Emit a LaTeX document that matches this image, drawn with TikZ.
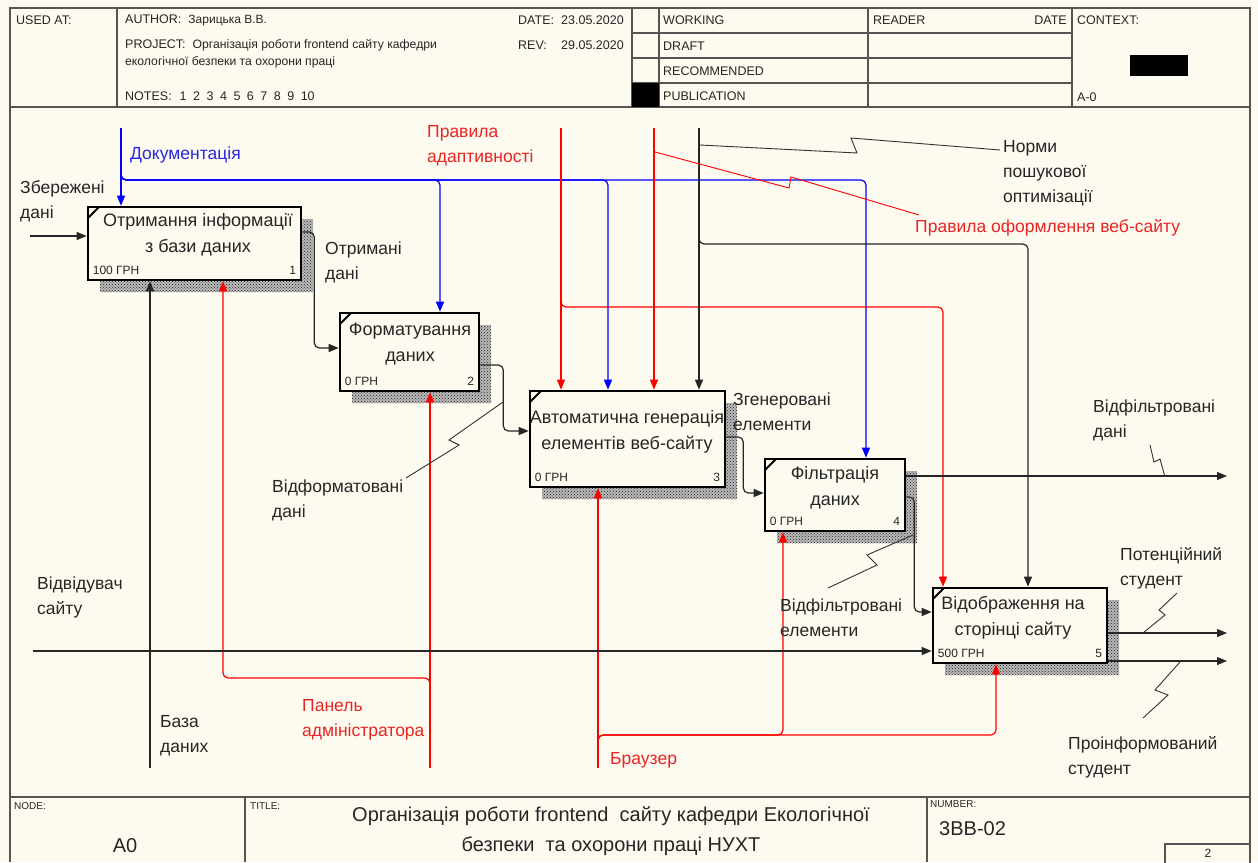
\documentclass[tikz,border=0pt]{standalone}
\usepackage{fontspec}
\setmainfont{Liberation Sans}
\usetikzlibrary{arrows.meta, positioning, patterns, calc}
\definecolor{paper}{RGB}{253,250,240}
\definecolor{idefred}{RGB}{255,0,0}
\definecolor{idefblue}{RGB}{0,0,255}
\definecolor{lblred}{RGB}{232,36,36}
\definecolor{lblblue}{RGB}{40,40,225}
\definecolor{rulegray}{RGB}{85,85,85}
\newcommand{\fs}[2]{\fontsize{#1}{#2}\selectfont}

\begin{document}
\begin{tikzpicture}[
  x=1pt, y=-1pt,
  every node/.style={inner sep=0pt, text=black!85},
  frame/.style={draw=rulegray, line width=1.4pt},
  hdr/.style={anchor=west, font=\fs{12.5}{15}},
  tiny/.style={anchor=west, font=\fs{10}{12}},
  actbox/.style={draw=black, line width=2.6pt, fill=paper,
    preaction={draw=none, fill=black!28,
               transform canvas={shift={(12pt,-12pt)}}},
    preaction={draw=none, pattern=crosshatch dots, pattern color=black!85,
               transform canvas={shift={(12pt,-12pt)}}},
    path picture={\draw[line width=2pt]
      ([yshift=-11pt]path picture bounding box.north west) --
      ([xshift=11pt]path picture bounding box.north west);}},
  boxtext/.style={align=center, font=\fs{18}{26}},
  cost/.style={font=\fs{12}{14}},
  lbl/.style={anchor=west, align=left, font=\fs{17.5}{25}},
  arr/.style={-{Triangle[length=10pt,width=8pt]}, line width=1.2pt, rounded corners=5pt},
  ctlblack/.style={arr, color=black!85},
  ctlred/.style={arr, color=idefred},
  ctlblue/.style={arr, color=idefblue},
  leader/.style={line width=0.9pt, draw=black!80}
]
  \useasboundingbox (0,0) rectangle (1258,862);
  \fill[paper] (0,0) rectangle (1258,862);

  %% Frame, header and footer
  \draw[frame] (10,862) -- (10,8) -- (1250,8) -- (1250,862);
  \draw[frame] (10,107) -- (1250,107);
  \draw[frame] (117,8) -- (117,107);
  \draw[frame] (632,8) -- (632,107);
  \draw[frame] (659,8) -- (659,107);
  \draw[frame] (868,8) -- (868,107);
  \draw[frame] (1072,8) -- (1072,107);
  \foreach \y in {33,58,83}
    \draw[frame] (632,\y) -- (1072,\y);
  \fill[black] (632,83) rectangle (659,107);
  \fill[black] (1130,55) rectangle (1188,76);
  \draw[frame] (10,797) -- (1250,797);
  \draw[frame] (245,797) -- (245,862);
  \draw[frame] (927,797) -- (927,862);
  \draw[frame] (1165,844) rectangle (1250,870);

  \node[hdr] (usedat)  at (16,20)  {USED AT:};
  \node[hdr] (author)  at (125,20) {AUTHOR:\hspace{7pt}{\fs{12}{14}Зарицька В.В.}};
  \node[hdr] (project) at (125,45) {PROJECT:\hspace{7pt}{\fs{12.2}{14}Організація роботи frontend сайту кафедри}};
  \node[anchor=west, font=\fs{12.2}{14}] (project2) at (125,62) {екологічної безпеки та охорони праці};
  \node[hdr] (notes)   at (125,96) {NOTES:\hspace{8pt}1\hspace{6.5pt}2\hspace{6.5pt}3\hspace{6.5pt}4\hspace{6.5pt}5\hspace{6.5pt}6\hspace{6.5pt}7\hspace{6.5pt}8\hspace{6.5pt}9\hspace{6.5pt}10};
  \node[hdr] (datehd)  at (518,20) {DATE:};
  \node[hdr] (dateval) at (561,20) {23.05.2020};
  \node[hdr] (revhd)   at (518,45) {REV:};
  \node[hdr] (revval)  at (561,45) {29.05.2020};
  \node[hdr] (working) at (663,20) {WORKING};
  \node[hdr] (draft)   at (663,46) {DRAFT};
  \node[hdr] (recomm)  at (663,71) {RECOMMENDED};
  \node[hdr] (public)  at (663,96) {PUBLICATION};
  \node[hdr] (reader)  at (873,20) {READER};
  \node[hdr, anchor=east] (rdate) at (1067,20) {DATE};
  \node[hdr] (context) at (1077,20) {CONTEXT:};
  \node[hdr] (ctxnode) at (1077,97) {A-0};

  \node[tiny] (nodehd)  at (14,806) {NODE:};
  \node[font=\fs{20}{24}] (nodeval) at (125,846) {A0};
  \node[tiny] (titlehd) at (250,806) {TITLE:};
  \node[align=center, font=\fs{20}{30}] (title) at (611,831)
    {Організація роботи frontend\ \ сайту кафедри Екологічної\\безпеки\ \ та охорони праці НУХТ};
  \node[tiny] (numhd)   at (930,804) {NUMBER:};
  \node[anchor=west, font=\fs{20}{24}] (numval) at (939,829) {3BB-02};
  \node[font=\fs{12}{14}] (sheet) at (1208,853) {2};

  %% Activity boxes
  \node[actbox, minimum width=213, minimum height=73] (getdata)  at (194.5,243.5) {};
  \node[actbox, minimum width=139, minimum height=78] (format)   at (409.5,352) {};
  \node[actbox, minimum width=195, minimum height=96] (generate) at (627.5,439) {};
  \node[actbox, minimum width=140, minimum height=72] (filter)   at (835,495) {};
  \node[actbox, minimum width=174, minimum height=75] (show)     at (1020,625.5) {};

  \node[boxtext] (t1) at (198,235)   {Отримання інформації\\з бази даних};
  \node[boxtext] (t2) at (410,344.5) {Форматування\\даних};
  \node[boxtext] (t3) at (627,431.5) {Автоматична генерація\\елементів веб-сайту};
  \node[boxtext] (t4) at (835,487.5) {Фільтрація\\даних};
  \node[boxtext] (t5) at (1013,618)  {Відображення на\\сторінці сайту};

  \node[cost, anchor=base west] (c1) at ([xshift=6pt,yshift=7pt]getdata.south west) {100 ГРН};
  \node[cost, anchor=base east] (n1) at ([xshift=-6pt,yshift=7pt]getdata.south east) {1};
  \node[cost, anchor=base west] (c2) at ([xshift=6pt,yshift=7pt]format.south west) {0 ГРН};
  \node[cost, anchor=base east] (n2) at ([xshift=-6pt,yshift=7pt]format.south east) {2};
  \node[cost, anchor=base west] (c3) at ([xshift=6pt,yshift=7pt]generate.south west) {0 ГРН};
  \node[cost, anchor=base east] (n3) at ([xshift=-6pt,yshift=7pt]generate.south east) {3};
  \node[cost, anchor=base west] (c4) at ([xshift=6pt,yshift=7pt]filter.south west) {0 ГРН};
  \node[cost, anchor=base east] (n4) at ([xshift=-6pt,yshift=7pt]filter.south east) {4};
  \node[cost, anchor=base west] (c5) at ([xshift=6pt,yshift=7pt]show.south west) {500 ГРН};
  \node[cost, anchor=base east] (n5) at ([xshift=-6pt,yshift=7pt]show.south east) {5};

  %% Entry points on the boxes
  \coordinate (topline) at (0,128);
  \coordinate (botline) at (0,768);
  \coordinate (rightout) at (1227,0);
  \coordinate (docbus)   at (0,180);
  \coordinate (seobus)   at (0,244);
  \coordinate (adaptbus) at (0,307);
  \coordinate (adminbus) at (0,678);
  \coordinate (browsbus) at (0,735);
  \coordinate (in1doc)    at ([xshift=-73.5pt]getdata.north);
  \coordinate (in2doc)    at ([xshift=30.5pt]format.north);
  \coordinate (in3adapt)  at ([xshift=-66.5pt]generate.north);
  \coordinate (in3doc)    at ([xshift=-19.5pt]generate.north);
  \coordinate (in3design) at ([xshift=26.5pt]generate.north);
  \coordinate (in3seo)    at ([xshift=71.5pt]generate.north);
  \coordinate (in4doc)    at ([xshift=31pt]filter.north);
  \coordinate (in5adapt)  at ([xshift=-77pt]show.north);
  \coordinate (in5seo)    at ([xshift=8pt]show.north);
  \coordinate (mc1db)     at ([xshift=-44.5pt]getdata.south);
  \coordinate (mc1admin)  at ([xshift=28.5pt]getdata.south);
  \coordinate (mc2admin)  at ([xshift=20.5pt]format.south);
  \coordinate (mc3brows)  at ([xshift=-29.5pt]generate.south);
  \coordinate (mc4brows)  at ([xshift=-52pt]filter.south);
  \coordinate (mc5brows)  at ([xshift=-24pt]show.south);
  \coordinate (savedin) at (30,236);
  \coordinate (visitin) at (33,651);
  \coordinate (o4data) at ([yshift=19pt]filter.east);
  \coordinate (o5pot)  at ([yshift=-7.5pt]show.east);
  \coordinate (o5inf)  at ([yshift=-35.5pt]show.east);

  %% Controls
  \draw[ctlblue] (in1doc |- topline) -- (in1doc);
  \draw[ctlblue] (in1doc |- docbus) ++(0,-8) |- (in2doc |- docbus) -- (in2doc);
  \draw[ctlblue] (in1doc |- docbus) ++(0,-8) |- (in3doc |- docbus) -- (in3doc);
  \draw[ctlblue] (in1doc |- docbus) ++(0,-8) |- (in4doc |- docbus) -- (in4doc);
  \draw[ctlred] (in3adapt |- topline) -- (in3adapt);
  \draw[ctlred] (in3adapt |- adaptbus) ++(0,-8) |- (in5adapt |- adaptbus) -- (in5adapt);
  \draw[ctlred] (in3design |- topline) -- (in3design);
  \draw[ctlblack] (in3seo |- topline) -- (in3seo);
  \draw[ctlblack] (in3seo |- seobus) ++(0,-8) |- (in5seo |- seobus) -- (in5seo);

  %% Mechanisms
  \draw[ctlblack] (mc1db |- botline) -- (mc1db);
  \draw[ctlred] (mc2admin |- botline) -- (mc2admin);
  \draw[ctlred] (mc2admin |- adminbus) ++(0,8) |- (mc1admin |- adminbus) -- (mc1admin);
  \draw[ctlred] (mc3brows |- botline) -- (mc3brows);
  \draw[ctlred] (mc3brows |- browsbus) ++(0,8) |- (mc5brows |- browsbus) -- (mc5brows);
  \draw[ctlred] (mc3brows |- browsbus) ++(0,8) |- (mc4brows |- browsbus) -- (mc4brows);

  %% Inputs, outputs and links between boxes
  \draw[ctlblack] (savedin) -- (savedin -| getdata.west);
  \draw[ctlblack] (visitin) -- (visitin -| show.west);
  \draw[ctlblack] ([yshift=11.5pt]getdata.east) -- ++(12,0) |- ([yshift=4pt]format.west);
  \draw[ctlblack] ([yshift=-13pt]format.east) -- ++(23,0) |- ([yshift=8pt]generate.west);
  \draw[ctlblack] ([yshift=2pt]generate.east) -- ++(17,0) |- ([yshift=2pt]filter.west);
  \draw[ctlblack] ([yshift=-2pt]filter.east) -- ++(8,0) |- ([yshift=13.5pt]show.west);
  \draw[ctlblack] (o4data) -- (o4data -| rightout);
  \draw[ctlblack] (o5pot) -- (o5pot -| rightout);
  \draw[ctlblack] (o5inf) -- (o5inf -| rightout);

  %% Labels
  \node[lbl] (saved)     at (20,201)     {Збережені\\дані};
  \node[lbl, text=lblblue] (docs) at (130,155) {Документація};
  \node[lbl, text=lblred] (adapt) at (427,145.5) {Правила\\адаптивності};
  \node[lbl] (norms)     at (1003,173)   {Норми\\пошукової\\оптимізації};
  \node[lbl, text=lblred] (design) at (915,228) {Правила оформлення веб-сайту};
  \node[lbl] (gotdata)   at (325,262.5)  {Отримані\\дані};
  \node[lbl] (formdata)  at (272,500.5)  {Відформатовані\\дані};
  \node[lbl] (genelem)   at (733,412)    {Згенеровані\\елементи};
  \node[lbl] (filtdata)  at (1093,420.5) {Відфільтровані\\дані};
  \node[lbl] (filtelem)  at (780,617.5)  {Відфільтровані\\елементи};
  \node[lbl] (potent)    at (1120,568)   {Потенційний\\студент};
  \node[lbl] (informed)  at (1068,757)   {Проінформований\\студент};
  \node[lbl] (visitor)   at (37,597.5)   {Відвідувач\\сайту};
  \node[lbl] (database)  at (160,735.5)  {База\\даних};
  \node[lbl, text=lblred] (admin) at (302,719.5) {Панель\\адміністратора};
  \node[lbl, text=lblred] (browser) at (610,760) {Браузер};

  %% Squiggle leaders
  \draw[leader] (700,145) -- (857,153) -- (851,138) -- (1000,150);
  \draw[leader, draw=idefred] (655,152) -- (789,188) -- (791,177) -- (919,215);
  \draw[leader] (406,478) -- (459,445) -- (449,440) -- (503,402);
  \draw[leader] (828,588) -- (877,565) -- (867,555) -- (913,535);
  \draw[leader] (1150,445) -- (1154,462) -- (1160,459) -- (1165,477);
  \draw[leader] (1143,633) -- (1165,615) -- (1159,610) -- (1177,593);
  \draw[leader] (1143,718) -- (1168,695) -- (1155,690) -- (1180,662);
\end{tikzpicture}
\end{document}
